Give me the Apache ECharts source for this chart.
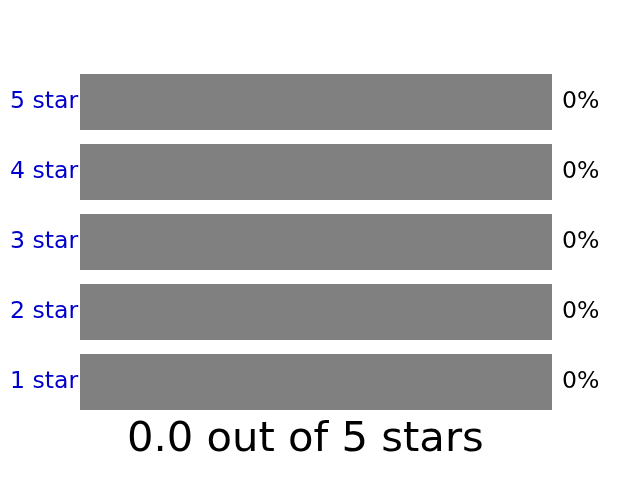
<!DOCTYPE html>
<html><head><meta charset="utf-8">
<script src="https://cdn.jsdelivr.net/npm/echarts@6/dist/echarts.min.js"></script>
<style>html,body{margin:0;padding:0;background:#fff}#c{width:640px;height:480px}</style>
</head><body><div id="c"></div>
<script>
const categories = ['5 stars', '4 stars', '3 stars', '2 stars', '1 stars'];
const values = [0, 0, 0, 0, 0];
const percentLabels = ['0%', '0%', '0%', '0%', '0%'];
const maxValue = 100;
const titleText = '0.0 out of 5 stars';

const remainder = values.map(v => maxValue - v);
const chart = echarts.init(document.getElementById('c'), null, {renderer: 'canvas'});
chart.setOption({
  animation: false,
  title: {
    text: titleText, left: 122, top: 414,
    textStyle: {fontFamily: 'DejaVu Sans', fontSize: 41.7, fontWeight: 'normal', color: '#000'}
  },
  grid: {left: 80, right: 88, top: 67, height: 350, containLabel: false},
  xAxis: {type: 'value', min: 0, max: maxValue, show: false},
  yAxis: [{
    type: 'category', data: categories, inverse: true,
    axisLine: {show: false}, axisTick: {show: false}, splitLine: {show: false},
    axisLabel: {align: 'left', margin: 70, width: 76, overflow: 'truncate', ellipsis: '',
      fontFamily: 'DejaVu Sans', fontSize: 23.6, color: '#0000cc'}
  }, {
    type: 'category', data: percentLabels, inverse: true, position: 'right',
    axisLine: {show: false}, axisTick: {show: false}, splitLine: {show: false},
    axisLabel: {align: 'left', margin: 10, fontFamily: 'DejaVu Sans', fontSize: 23.6, color: '#000'}
  }],
  series: [{
    type: 'bar', stack: 'a', data: values, barCategoryGap: '20%',
    itemStyle: {color: '#0000cc'}
  }, {
    type: 'bar', stack: 'a', data: remainder, barCategoryGap: '20%',
    itemStyle: {color: '#808080'}
  }]
});
</script></body></html>
